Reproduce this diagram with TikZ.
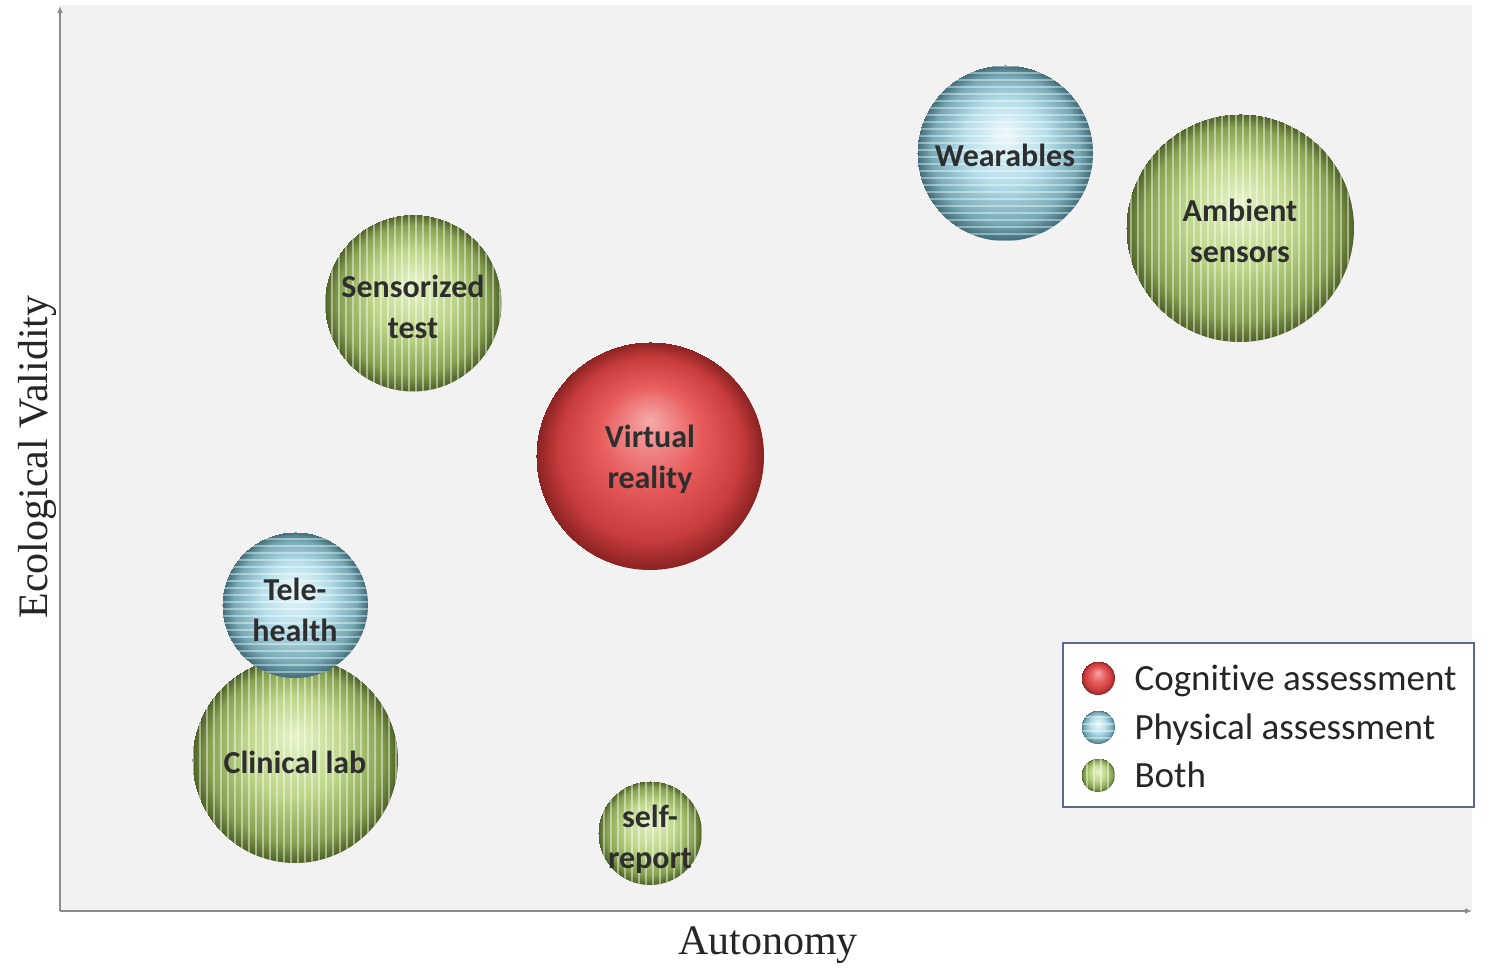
\documentclass[tikz,border=0pt]{standalone}
\usepackage{fontspec}
\setmainfont{Liberation Serif}
\newfontfamily\cfont[Ligatures=NoCommon]{Carlito}
\usetikzlibrary{arrows.meta}
\definecolor{plotbg}{HTML}{F2F2F2}
\definecolor{axisc}{HTML}{8C8C8C}
\definecolor{legc}{HTML}{5A6A8C}
\definecolor{gI}{HTML}{E6F3C8}
\definecolor{gM}{HTML}{BDD688}
\definecolor{gO}{HTML}{86A250}
\definecolor{gE}{HTML}{4E6226}
\definecolor{bI}{HTML}{EEF9FC}
\definecolor{bM}{HTML}{B4DEE9}
\definecolor{bO}{HTML}{76A9B6}
\definecolor{bE}{HTML}{3F6C78}
\definecolor{rI}{HTML}{F6AAAA}
\definecolor{rM}{HTML}{E85C5C}
\definecolor{rO}{HTML}{C83C3C}
\definecolor{rE}{HTML}{8A2222}
\definecolor{lblc}{HTML}{2E2E2E}
\pgfdeclareradialshading{greenball}{\pgfpoint{0bp}{6bp}}{color(0bp)=(gI); color(12bp)=(gM); color(21bp)=(gO); color(25bp)=(gE)}
\pgfdeclareradialshading{blueball}{\pgfpoint{0bp}{6bp}}{color(0bp)=(bI); color(12bp)=(bM); color(21bp)=(bO); color(25bp)=(bE)}
\pgfdeclareradialshading{redball}{\pgfpoint{0bp}{8bp}}{color(0bp)=(rI); color(11bp)=(rM); color(20bp)=(rO); color(25bp)=(rE)}
\begin{document}
\begin{tikzpicture}[x=1pt,y=-1pt,
  bubble/.style={circle, inner sep=0pt, minimum size=#1},
  vstripes/.style={path picture={\foreach \k in {-130,-123,...,130}
     \draw[white, opacity=.45, line width=2.4pt] ([xshift=\k pt]path picture bounding box.north) -- ([xshift=\k pt]path picture bounding box.south);}},
  hstripes/.style={path picture={\foreach \k in {-130,-123,...,130}
     \draw[white, opacity=.4, line width=2.2pt] ([yshift=\k pt]path picture bounding box.west) -- ([yshift=\k pt]path picture bounding box.east);}},
  greenb/.style={bubble=#1, shade, shading=greenball, vstripes},
  blueb/.style={bubble=#1, shade, shading=blueball, hstripes},
  redb/.style={bubble=#1, shade, shading=redball},
  lbl/.style={font=\cfont\bfseries\fontsize{32}{41}\selectfont, text=lblc, align=center},
  legtxt/.style={font=\cfont\fontsize{37}{44}\selectfont, text=black!85, anchor=base west},
  axislbl/.style={font=\fontsize{42}{48}\selectfont, text=black!85},
  axisline/.style={draw=axisc, line width=2pt, -{Latex[length=7pt,width=6pt]}}
]
\fill[white] (0,0) rectangle (1500,971);
\fill[plotbg] (60,5) rectangle (1472,911);
\coordinate (O) at (60,911);
\coordinate (ytop) at (60,6);
\coordinate (xend) at (1472,911);
\draw[axisline] (O) -- (ytop);
\draw[axisline] (O) -- (xend);

\node[blueb=176pt] (wear) at (1005,153) {};
\node[greenb=228pt] (amb) at (1240,228) {};
\node[greenb=177pt] (sens) at (413,303) {};
\node[redb=228pt] (vr) at (650,456) {};
\node[greenb=206pt] (clin) at (295,760) {};
\node[blueb=146pt] (tele) at (295,605) {};
\node[greenb=104pt] (self) at (650,833) {};

\node[lbl] (wearT) at ([yshift=-2pt]wear.center) {Wearables};
\node[lbl] (ambT) at ([yshift=-3pt]amb.center) {Ambient\\sensors};
\node[lbl] (sensT) at ([yshift=-4pt]sens.center) {Sensorized\\test};
\node[lbl] (vrT) at ([yshift=-3pt]vr.center) {Virtual\\reality};
\node[lbl] (teleT) at ([yshift=-5pt]tele.center) {Tele-\\health};
\node[lbl] (clinT) at ([yshift=-2pt]clin.center) {Clinical lab};
\node[lbl] (selfT) at ([yshift=-6pt]self.center) {self-\\report};

\node[axislbl, anchor=base] (xlab) at (768,954) {Autonomy};
\node[axislbl, rotate=90] (ylab) at (37,457) {Ecological Validity};

\node[draw=legc, line width=2pt, fill=white, minimum width=411pt, minimum height=164pt, inner sep=0pt] (legend) at (1268.5,725) {};
\node[redb=34pt] (m1) at (1098,678) {};
\node[blueb=34pt] (m2) at (1098,727) {};
\node[greenb=34pt] (m3) at (1098,775) {};
\node[legtxt] (t1) at (1131,690) {Cognitive assessment};
\node[legtxt] (t2) at (1131,739) {Physical assessment};
\node[legtxt] (t3) at (1131,787) {Both};
\end{tikzpicture}
\end{document}
